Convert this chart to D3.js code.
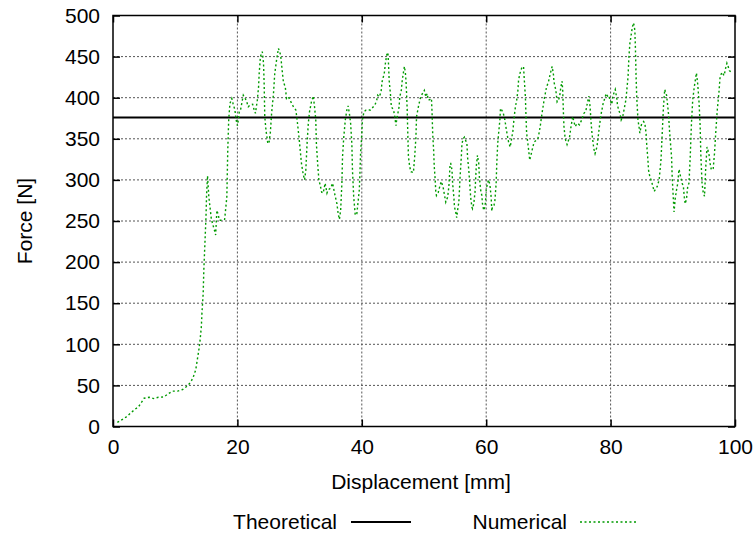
<!DOCTYPE html>
<html>
<head>
<meta charset="utf-8">
<script src="https://cdn.jsdelivr.net/npm/d3@7"></script>
<style>
body { margin: 0; background: #fff; }
text { font-family: "Liberation Sans", Arial, sans-serif; fill: #000; }
</style>
</head>
<body>
<div id="chart"></div>
<script>
// data
var displacement = [
	0.7, 1.6, 2.2, 2.85, 3.5, 4.1, 4.6, 5.0, 5.8, 6.5, 7.3, 8.2, 8.9, 9.6, 10.4, 11.2, 11.9, 12.5, 12.9, 13.3,
	13.55, 13.8, 14.0, 14.2, 14.3, 14.5, 14.6, 14.8, 14.95, 15.05, 15.2, 15.4, 15.8, 16.0, 16.3, 16.5, 16.7, 16.9, 17.1, 17.6,
	17.95, 18.3, 18.45, 18.6, 18.8, 19.1, 19.3, 19.6, 19.8, 20.0, 20.15, 20.3, 20.5, 20.8, 20.95, 21.2, 21.5, 21.75, 22.0, 22.45,
	22.7, 22.9, 23.2, 23.4, 23.5, 23.7, 24.0, 24.2, 24.3, 24.4, 24.6, 24.9, 25.1, 25.3, 25.5, 25.8, 26.0, 26.3, 26.6, 26.95,
	27.2, 27.4, 27.7, 27.9, 28.2, 28.6, 29.0, 29.4, 29.6, 29.9, 30.1, 30.3, 30.6, 30.8, 31.0, 31.2, 31.4, 31.6, 31.8, 31.9,
	32.2, 32.4, 32.6, 32.7, 32.9, 33.1, 33.3, 33.55, 33.8, 34.1, 34.4, 34.6, 35.0, 35.3, 35.7, 36.0, 36.2, 36.4, 36.6, 36.8,
	36.9, 37.1, 37.35, 37.6, 37.8, 38.0, 38.2, 38.4, 38.5, 38.7, 38.95, 39.2, 39.4, 39.6, 39.7, 39.8, 40.0, 40.1, 40.35, 40.7,
	41.0, 41.4, 41.85, 42.1, 42.4, 42.55, 42.8, 43.1, 43.25, 43.45, 43.6, 43.8, 44.0, 44.2, 44.3, 44.4, 44.6, 44.75, 45.1, 45.3,
	45.5, 45.6, 45.8, 46.0, 46.1, 46.35, 46.5, 46.7, 46.85, 47.0, 47.1, 47.2, 47.3, 47.4, 47.5, 47.7, 47.9, 48.3, 48.5, 48.7,
	48.8, 49.0, 49.15, 49.4, 49.6, 49.9, 50.05, 50.3, 50.5, 50.7, 51.0, 51.2, 51.3, 51.4, 51.55, 51.65, 51.8, 51.9, 52.0, 52.3,
	52.6, 52.8, 53.1, 53.4, 53.5, 53.8, 54.0, 54.2, 54.3, 54.5, 54.6, 54.8, 54.9, 55.1, 55.25, 55.4, 55.6, 55.7, 55.8, 56.0,
	56.1, 56.3, 56.5, 56.6, 56.9, 57.0, 57.2, 57.35, 57.5, 57.7, 57.8, 58.0, 58.2, 58.4, 58.6, 58.8, 58.9, 59.1, 59.3, 59.4,
	59.6, 59.8, 59.9, 60.0, 60.2, 60.4, 60.6, 60.8, 60.9, 61.0, 61.25, 61.4, 61.6, 61.7, 61.85, 62.0, 62.2, 62.3, 62.5, 62.75,
	63.0, 63.2, 63.4, 63.6, 63.85, 64.0, 64.3, 64.5, 64.7, 64.9, 65.1, 65.2, 65.4, 65.7, 66.0, 66.1, 66.3, 66.4, 66.5, 66.7,
	66.8, 67.0, 67.25, 67.5, 67.7, 68.0, 68.3, 68.5, 68.7, 68.9, 69.1, 69.3, 69.5, 69.7, 70.0, 70.3, 70.6, 70.8, 70.9, 71.2,
	71.4, 71.6, 71.8, 72.0, 72.2, 72.3, 72.4, 72.5, 72.7, 73.0, 73.4, 73.6, 73.9, 74.3, 74.65, 75.0, 75.35, 75.7, 76.0, 76.25,
	76.5, 76.7, 76.85, 77.0, 77.2, 77.3, 77.5, 77.8, 78.0, 78.2, 78.4, 78.6, 78.8, 79.05, 79.3, 79.5, 79.7, 79.9, 80.2, 80.3,
	80.5, 80.75, 81.0, 81.1, 81.3, 81.5, 81.7, 81.95, 82.15, 82.3, 82.5, 82.6, 82.8, 82.95, 83.1, 83.3, 83.5, 83.7, 83.9, 84.0,
	84.1, 84.2, 84.4, 84.6, 84.7, 84.95, 85.3, 85.5, 85.7, 85.8, 86.0, 86.1, 86.3, 86.6, 87.0, 87.5, 87.8, 88.1, 88.3, 88.5,
	88.7, 89.0, 89.3, 89.5, 89.8, 89.9, 90.1, 90.2, 90.4, 90.6, 90.8, 91.0, 91.25, 91.5, 91.7, 91.85, 92.0, 92.2, 92.4, 92.6,
	92.8, 93.0, 93.2, 93.45, 93.8, 94.0, 94.2, 94.4, 94.5, 94.7, 94.9, 95.1, 95.3, 95.5, 95.8, 96.0, 96.2, 96.5, 96.7, 96.9,
	97.15, 97.4, 97.6, 97.9, 98.25, 98.5, 98.7, 98.9, 99.1, 99.5
];
var force = [
	5, 9, 12, 16.5, 20.7, 24, 29.6, 34.4, 35.6, 34, 35.6, 36, 40, 43, 43, 45, 49, 54, 60, 69,
	81, 93, 105, 121, 138, 162, 190, 227, 255, 283, 305, 280, 253, 247, 239, 233, 263, 258, 251, 251,
	252, 279, 336, 373, 393, 399, 393, 385, 373, 366, 373, 383, 385, 397, 403, 400, 395, 389, 391, 392,
	385, 381, 397, 413, 429, 450, 456, 442, 417, 377, 360, 344, 346, 358, 381, 405, 429, 446, 460, 452,
	433, 419, 413, 399, 401, 395, 389, 385, 373, 352, 336, 320, 306, 300, 312, 344, 369, 383, 391, 395,
	402, 389, 373, 344, 320, 300, 294, 285, 284, 296, 284, 288, 290, 296, 281, 271, 259, 252, 263, 296,
	328, 352, 373, 385, 390, 381, 369, 344, 312, 279, 257, 259, 273, 288, 308, 332, 356, 373, 383, 385,
	385, 385, 389, 391, 397, 403, 401, 407, 419, 425, 429, 442, 452, 455, 440, 421, 405, 389, 385, 377,
	366, 373, 381, 389, 401, 409, 421, 431, 438, 431, 421, 405, 385, 355, 328, 316, 310, 309, 328, 352,
	377, 385, 391, 399, 403, 407, 409, 401, 405, 397, 398, 399, 381, 356, 336, 316, 300, 285, 281, 285,
	294, 298, 290, 277, 273, 279, 292, 320, 320, 312, 296, 279, 267, 261, 254, 263, 273, 288, 304, 328,
	344, 350, 352, 350, 344, 328, 312, 296, 279, 267, 265, 271, 285, 316, 330, 320, 304, 288, 281, 271,
	263, 267, 275, 288, 296, 300, 294, 279, 262, 267, 269, 275, 296, 320, 344, 357, 373, 387, 385, 381,
	373, 363, 354, 346, 340, 346, 360, 377, 389, 397, 409, 421, 429, 436, 438, 425, 401, 377, 357, 344,
	338, 324, 332, 340, 346, 348, 350, 357, 366, 377, 387, 397, 405, 413, 419, 429, 438, 429, 419, 409,
	395, 397, 401, 413, 420, 409, 385, 365, 350, 343, 352, 363, 377, 365, 369, 367, 373, 381, 383, 393,
	402, 389, 371, 357, 344, 338, 332, 340, 352, 365, 377, 385, 393, 399, 405, 402, 403, 397, 392, 399,
	405, 410, 399, 391, 385, 381, 373, 377, 385, 391, 399, 409, 425, 450, 466, 476, 486, 491, 482, 458,
	425, 401, 373, 363, 357, 367, 371, 369, 357, 344, 324, 312, 304, 298, 286, 292, 300, 324, 357, 389,
	410, 403, 381, 357, 328, 304, 275, 261, 278, 288, 296, 313, 304, 296, 292, 279, 271, 277, 292, 296,
	328, 369, 397, 413, 430, 417, 397, 365, 332, 296, 284, 280, 316, 340, 332, 320, 312, 314, 332, 357,
	385, 405, 425, 431, 427, 436, 442, 438, 433, 430
];
var theoreticalForce = 376;
var xTicks = [0, 20, 40, 60, 80, 100];
var yTicks = [0, 50, 100, 150, 200, 250, 300, 350, 400, 450, 500];
var seriesNames = ["Theoretical", "Numerical"];

var totalWidth = 756, totalHeight = 535;
var margin = { top: 15.5, right: 21, bottom: 108.5, left: 113 },
	width = totalWidth - margin.left - margin.right,
	height = totalHeight - margin.top - margin.bottom;
var greenColor = "#009a00";
var fontSize = "21px";

var svg = d3.select("#chart")
	.append("svg")
		.attr("width", totalWidth)
		.attr("height", totalHeight);
var g = svg.append("g")
	.attr("transform", "translate(" + margin.left + "," + margin.top + ")");

var x = d3.scaleLinear().domain([0, 100]).range([0, width]);
var y = d3.scaleLinear().domain([0, 500]).range([height, 0]);

// dotted grid (not on the border)
g.selectAll(".vgrid")
	.data(xTicks.slice(1, -1)).enter()
	.append("line")
		.attr("x1", function(d) { return x(d); }).attr("x2", function(d) { return x(d); })
		.attr("y1", 0).attr("y2", height)
		.style("stroke", "#555").style("stroke-width", 1).style("stroke-dasharray", "2,2");
g.selectAll(".hgrid")
	.data(yTicks.slice(1, -1)).enter()
	.append("line")
		.attr("y1", function(d) { return y(d); }).attr("y2", function(d) { return y(d); })
		.attr("x1", 0).attr("x2", width)
		.style("stroke", "#555").style("stroke-width", 1).style("stroke-dasharray", "2,2");

// axes with inward ticks, gnuplot style
var tickLen = 7;
var xAxis = g.append("g")
	.attr("transform", "translate(0," + height + ")")
	.call(d3.axisBottom(x).tickValues(xTicks).tickSizeInner(-tickLen).tickSizeOuter(0).tickPadding(13));
var xAxisTop = g.append("g")
	.call(d3.axisTop(x).tickValues(xTicks).tickSizeInner(-tickLen).tickSizeOuter(0).tickFormat(""));
var yAxis = g.append("g")
	.call(d3.axisLeft(y).tickValues(yTicks).tickSizeInner(-tickLen).tickSizeOuter(0).tickPadding(13));
var yAxisRight = g.append("g")
	.attr("transform", "translate(" + width + ",0)")
	.call(d3.axisRight(y).tickValues(yTicks).tickSizeInner(-tickLen).tickSizeOuter(0).tickFormat(""));

[xAxis, xAxisTop, yAxis, yAxisRight].forEach(function(ax) {
	ax.select(".domain").remove();
	ax.selectAll(".tick line").style("stroke", "#000").style("stroke-width", 1.5);
	ax.selectAll("text").style("font-size", fontSize).attr("fill", "#000");
});

// theoretical line
g.append("line")
	.attr("x1", x(0)).attr("x2", x(100))
	.attr("y1", y(theoreticalForce)).attr("y2", y(theoreticalForce))
	.style("stroke", "#000").style("stroke-width", 2);

// numerical curve
var points = displacement.map(function(d, i) { return [d, force[i]]; });
g.append("path")
	.datum(points)
	.attr("d", d3.line().x(function(d) { return x(d[0]); }).y(function(d) { return y(d[1]); }))
	.style("fill", "none")
	.style("stroke", greenColor)
	.style("stroke-width", 1.4)
	.style("stroke-dasharray", "2,2.5");

// border
g.append("rect")
	.attr("width", width).attr("height", height)
	.style("fill", "none").style("stroke", "#000").style("stroke-width", 1.5);

// axis titles
svg.append("text")
	.attr("x", margin.left + width / 2 - 3).attr("y", 489)
	.style("text-anchor", "middle").style("font-size", fontSize)
	.text("Displacement [mm]");
svg.append("text")
	.attr("transform", "translate(32," + (margin.top + height / 2) + ") rotate(-90)")
	.style("text-anchor", "middle").style("font-size", fontSize)
	.text("Force [N]");

// legend
var legend = [
	{ name: seriesNames[0], textX: 337, x1: 351, x2: 411, stroke: "#000", width: 2, dash: null },
	{ name: seriesNames[1], textX: 567, x1: 580, x2: 638, stroke: greenColor, width: 1.4, dash: "2,2.5" }
];
var legendY = 522;
legend.forEach(function(item) {
	svg.append("text")
		.attr("x", item.textX).attr("y", legendY + 7)
		.style("text-anchor", "end").style("font-size", fontSize)
		.text(item.name);
	svg.append("line")
		.attr("x1", item.x1).attr("x2", item.x2)
		.attr("y1", legendY).attr("y2", legendY)
		.style("stroke", item.stroke).style("stroke-width", item.width)
		.style("stroke-dasharray", item.dash);
});
</script>
</body>
</html>
